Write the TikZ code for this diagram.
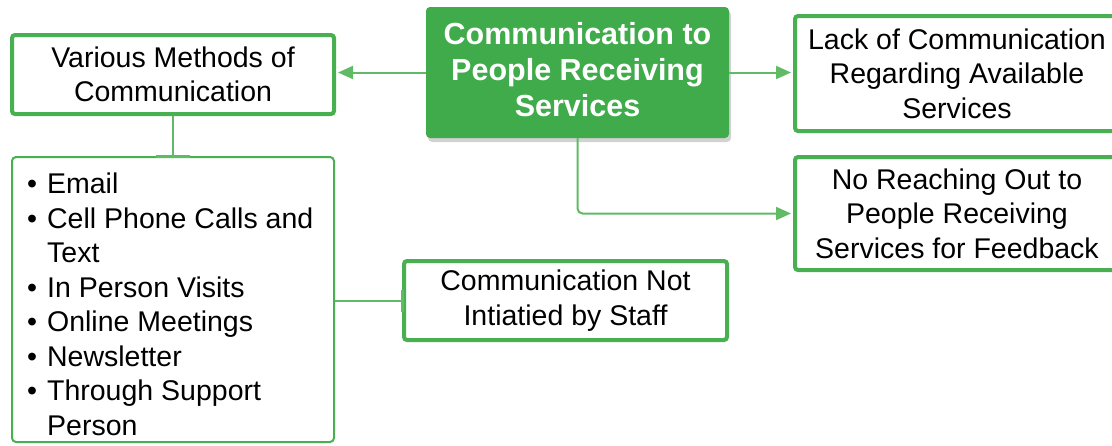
\documentclass[tikz,border=0pt]{standalone}
\usepackage{fontspec}
\setmainfont{Liberation Sans}
\usetikzlibrary{arrows.meta,shadows}
\definecolor{gfill}{RGB}{63,171,74}
\definecolor{gline}{RGB}{72,176,80}
\definecolor{gconn}{RGB}{96,186,102}
\tikzset{
  box/.style={draw=gline, line width=4pt, rounded corners=3pt, fill=white, align=center,
    font=\fontsize{28.5}{34.5}\selectfont, inner sep=0pt},
  listbox/.style={draw=gline, line width=2pt, rounded corners=4pt, fill=white, inner sep=0pt},
  mainbox/.style={fill=gfill, rounded corners=4pt, inner sep=0pt,
    drop shadow={opacity=0.35, shadow xshift=2pt, shadow yshift=-4pt}},
  maintext/.style={align=center, text=white, inner sep=0pt,
    font=\fontsize{30.5}{36}\selectfont\bfseries},
  conn/.style={draw=gconn, line width=2pt},
  arr/.style={conn, -{Triangle[length=15pt,width=13pt]}, shorten >=2pt},
}
\begin{document}
\begin{tikzpicture}[x=1pt,y=-1pt]
\clip (0,0) rectangle (1112,445);
\fill[white] (0,0) rectangle (1112,445);

\node[mainbox, minimum width=303pt, minimum height=131pt] (main) at (577.5,72.5) {};
\node[maintext] (maintxt) at (577.5,69.5) {Communication to\\People Receiving\\Services};
\node[box, minimum width=322pt, minimum height=79pt] (various) at (173,74.5)
  {Various Methods of\\Communication};
\node[box, minimum width=324pt, minimum height=115pt] (lack) at (957,73.5)
  {Lack of Communication\\Regarding Available\\Services};
\node[box, minimum width=324pt, minimum height=113pt] (reach) at (957,213.5)
  {No Reaching Out to\\People Receiving\\Services for Feedback};
\node[listbox, minimum width=322pt, minimum height=285pt] (list) at (173,299.5) {};
\node[anchor=west, inner sep=0pt, font=\fontsize{28.5}{34.5}\selectfont] (items) at (27,307.5)
  {\begin{tabular}{@{}l@{\hspace{10pt}}l@{}}
  •&Email\\
  •&Cell Phone Calls and\\
   &Text\\
  •&In Person Visits\\
  •&Online Meetings\\
  •&Newsletter\\
  •&Through Support\\
   &Person
  \end{tabular}};
\node[box, minimum width=323pt, minimum height=79pt] (notinit) at (565.5,300.5)
  {Communication Not\\Intiatied by Staff};

\draw[arr] (main.west) -- (main.west -| various.east);
\draw[arr] (main.east) -- (main.east -| lack.west);
\draw[arr, rounded corners=5pt] (main.south) |- (reach.west);
\draw[conn] (various.south) -- (list.north);
\draw[gconn, line width=3pt] ([xshift=-17pt]list.north) -- ([xshift=17pt]list.north);
\draw[conn] (list.east |- notinit.west) -- (notinit.west);
\draw[gconn, line width=3pt] ([yshift=-11pt]notinit.west) -- ([yshift=11pt]notinit.west);
\end{tikzpicture}
\end{document}
